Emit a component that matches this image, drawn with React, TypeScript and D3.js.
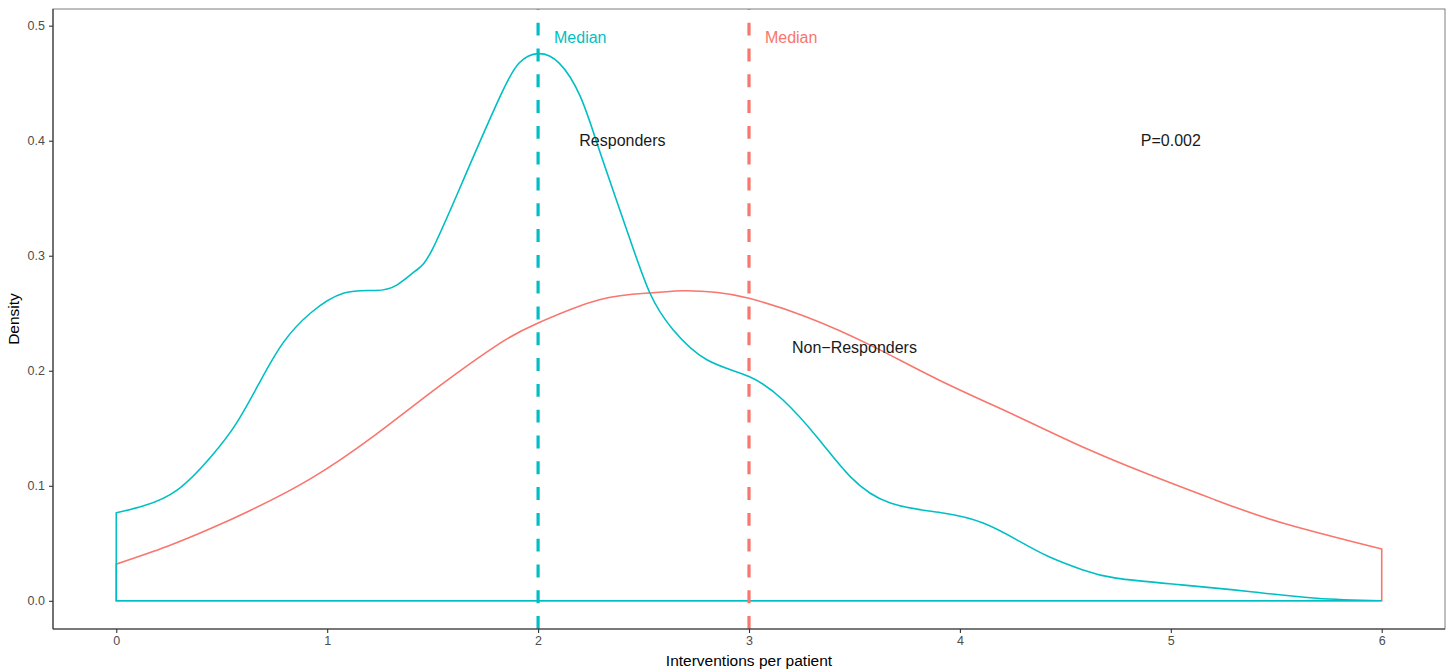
import { useEffect, useRef } from "react";
import * as d3 from "d3";

// density estimates (x = interventions, d = density)
const responders = [
  [0, 0.0765], [0.13, 0.0826], [0.29, 0.0965], [0.45, 0.1255], [0.57, 0.1545],
  [0.68, 0.19], [0.79, 0.224], [0.92, 0.25], [1.08, 0.2676], [1.23, 0.2698],
  [1.33, 0.2745], [1.42, 0.287], [1.5, 0.306], [1.66, 0.372], [1.82, 0.4385],
  [1.91, 0.4675], [2.0, 0.4757], [2.1, 0.4675], [2.2, 0.4385], [2.29, 0.392],
  [2.42, 0.3226], [2.53, 0.2676], [2.64, 0.2357], [2.8, 0.2096], [3.0, 0.195],
  [3.16, 0.1748], [3.32, 0.1429], [3.48, 0.108], [3.67, 0.085], [3.92, 0.0763],
  [4.11, 0.0676], [4.27, 0.053], [4.42, 0.0385], [4.58, 0.027], [4.74, 0.0197],
  [5.05, 0.0139], [5.37, 0.0081], [5.69, 0.0023], [6.0, 0.0],
];

const nonResponders = [
  [0, 0.0319], [0.24, 0.0472], [0.45, 0.063], [0.64, 0.079], [0.92, 0.106],
  [1.23, 0.1445], [1.53, 0.1864], [1.82, 0.224], [2.0, 0.2415], [2.29, 0.2617],
  [2.53, 0.2676], [2.69, 0.2695], [2.85, 0.268], [3.0, 0.263], [3.27, 0.247],
  [3.59, 0.221], [3.9, 0.192], [4.27, 0.1605], [4.58, 0.134], [4.9, 0.1096],
  [5.21, 0.0878], [5.53, 0.0676], [6.0, 0.045],
];

const medians = [
  { group: "Non-Responders", value: 3, color: "#F8766D" },
  { group: "Responders", value: 2, color: "#00BFC4" },
];

const labels = [
  { text: "Median", x: 2.2, y: 0.49, color: "#00BFC4" },
  { text: "Median", x: 3.2, y: 0.49, color: "#F8766D" },
  { text: "Responders", x: 2.4, y: 0.4, color: "#1a1a1a" },
  { text: "Non\u2212Responders", x: 3.5, y: 0.22, color: "#1a1a1a" },
  { text: "P=0.002", x: 5.0, y: 0.4, color: "#1a1a1a" },
];

const xTicks = [0, 1, 2, 3, 4, 5, 6];
const yTicks = [0, 0.1, 0.2, 0.3, 0.4, 0.5];

const W = 1450;
const H = 671;
const FONT = "'Liberation Sans', Arial, sans-serif";

const App = () => {
  const svgRef = useRef(null);

  useEffect(() => {
    const svg = d3.select(svgRef.current);
    svg.selectAll("*").remove();

    const panel = { left: 53, right: 1445, top: 9, bottom: 629 };
    const x = d3.scaleLinear().domain([-0.3, 6.3]).range([panel.left, panel.right]);
    const y = d3.scaleLinear().domain([-0.0245, 0.5145]).range([panel.bottom, panel.top]);

    svg.append("rect").attr("width", W).attr("height", H).attr("fill", "#fff");

    // density outlines (closed to the baseline like geom_density)
    const area = d3
      .area()
      .x((d) => x(d[0]))
      .y0(y(0))
      .y1((d) => y(d[1]))
      .curve(d3.curveNatural);

    svg
      .append("path")
      .datum(nonResponders)
      .attr("d", area)
      .attr("fill", "none")
      .attr("stroke", "#F8766D")
      .attr("stroke-width", 1.6);

    svg
      .append("path")
      .datum(responders)
      .attr("d", area)
      .attr("fill", "none")
      .attr("stroke", "#00BFC4")
      .attr("stroke-width", 1.6);

    // median lines, drawn bottom to top
    svg
      .selectAll(".median")
      .data(medians)
      .enter()
      .append("line")
      .attr("x1", (d) => x(d.value))
      .attr("x2", (d) => x(d.value))
      .attr("y1", panel.bottom)
      .attr("y2", panel.top)
      .attr("stroke", (d) => d.color)
      .attr("stroke-width", 3.2)
      .attr("stroke-dasharray", "12.9,12.9");

    svg
      .selectAll(".label")
      .data(labels)
      .enter()
      .append("text")
      .attr("x", (d) => x(d.x))
      .attr("y", (d) => y(d.y))
      .attr("text-anchor", "middle")
      .attr("dominant-baseline", "central")
      .attr("font-family", FONT)
      .attr("font-size", 16)
      .attr("fill", (d) => d.color)
      .text((d) => d.text);

    // panel border
    svg
      .append("rect")
      .attr("x", panel.left)
      .attr("y", panel.top)
      .attr("width", panel.right - panel.left)
      .attr("height", panel.bottom - panel.top)
      .attr("fill", "none")
      .attr("stroke", "#7f7f7f")
      .attr("stroke-width", 1);

    // axes
    const xAxis = svg
      .append("g")
      .attr("transform", `translate(0,${panel.bottom})`)
      .call(d3.axisBottom(x).tickValues(xTicks).tickFormat(d3.format("d")).tickSize(4).tickPadding(3));
    const yAxis = svg
      .append("g")
      .attr("transform", `translate(${panel.left},0)`)
      .call(d3.axisLeft(y).tickValues(yTicks).tickFormat(d3.format(".1f")).tickSize(4).tickPadding(4));

    [xAxis, yAxis].forEach((a) => {
      a.select(".domain").attr("stroke", "#333").attr("stroke-width", 1.1);
      a.selectAll(".tick line").attr("stroke", "#333").attr("stroke-width", 1.1);
      a.selectAll(".tick text")
        .attr("fill", "#4d4d4d")
        .style("font-size", "12.5px")
        .style("font-family", FONT);
    });
    xAxis.select(".domain").attr("d", `M${panel.left},0H${panel.right}`);
    yAxis.select(".domain").attr("d", `M0,${panel.bottom}V${panel.top}`);

    svg
      .append("text")
      .attr("x", (panel.left + panel.right) / 2)
      .attr("y", 666)
      .attr("text-anchor", "middle")
      .attr("font-family", FONT)
      .attr("font-size", 15.5)
      .attr("fill", "#000")
      .text("Interventions per patient");

    svg
      .append("text")
      .attr("transform", `translate(19,${(panel.top + panel.bottom) / 2}) rotate(-90)`)
      .attr("text-anchor", "middle")
      .attr("font-family", FONT)
      .attr("font-size", 15.5)
      .attr("fill", "#000")
      .text("Density");
  }, []);

  return (
    <div style={{ position: "absolute", left: 0, top: 0 }}>
      <svg ref={svgRef} width={W} height={H} style={{ display: "block" }} />
    </div>
  );
};

export default App;
